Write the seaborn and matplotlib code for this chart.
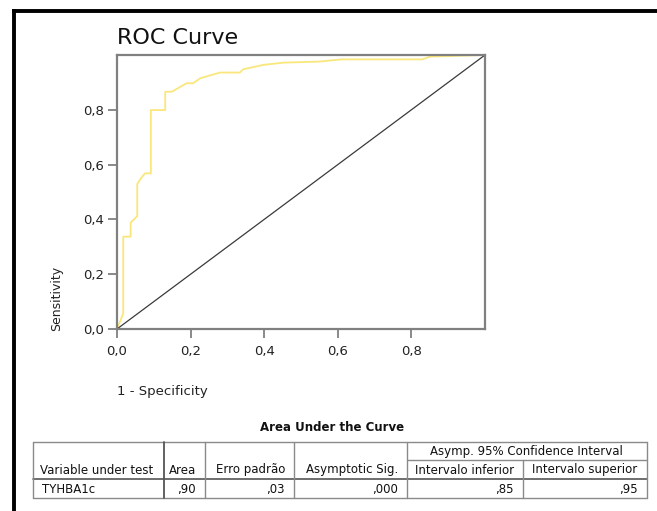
import numpy as np
import pandas as pd
import matplotlib
matplotlib.use("Agg")
import matplotlib.pyplot as plt
import seaborn as sns
from matplotlib.lines import Line2D

# ---- data ----
fpr = [0.0, 0.017, 0.017, 0.037, 0.037, 0.055, 0.055, 0.065, 0.076, 0.092, 0.092,
       0.131, 0.131, 0.149, 0.189, 0.207, 0.226, 0.280, 0.334, 0.343, 0.398, 0.452,
       0.55, 0.61, 0.83, 0.85, 1.0]
tpr = [0.0, 0.057, 0.337, 0.337, 0.388, 0.412, 0.529, 0.55, 0.568, 0.568, 0.799,
       0.799, 0.866, 0.866, 0.897, 0.897, 0.915, 0.936, 0.936, 0.948, 0.964, 0.972,
       0.976, 0.984, 0.984, 0.994, 1.0]
ref_x = [0.0, 1.0]
ref_y = [0.0, 1.0]
tick_vals = [0.0, 0.2, 0.4, 0.6, 0.8]
tick_labels = ["0,0", "0,2", "0,4", "0,6", "0,8"]

table_title = "Area Under the Curve"
span_header = "Asymp. 95% Confidence Interval"
col_headers = ["Variable under test", "Area", "Erro padrão", "Asymptotic Sig.",
               "Intervalo inferior", "Intervalo superior"]
row_values = ["TYHBA1c", ",90", ",03", ",000", ",85", ",95"]

# ---- figure ----
sns.set_style("white")
plt.rcParams['font.family'] = ['DejaVu Sans']
W, H = 657, 511
fig = plt.figure(figsize=(W / 100, H / 100), dpi=100)

def fx(px):
    return px / W

def fy(py):
    return 1 - py / H

ax = fig.add_axes([fx(117), fy(329), fx(485) - fx(117), fy(55) - fy(329)])
df = pd.DataFrame({"fpr": fpr, "tpr": tpr})
sns.lineplot(data=df, x="fpr", y="tpr", ax=ax, sort=False, estimator=None,
             color="#FAE77C", lw=1.3)
ref = pd.DataFrame({"x": ref_x, "y": ref_y})
sns.lineplot(data=ref, x="x", y="y", ax=ax, sort=False, estimator=None,
             color="#3a3a3a", lw=0.9)
ax.set_xlim(0, 1)
ax.set_ylim(0, 1)
ax.set_xticks(tick_vals)
ax.set_xticklabels(tick_labels)
ax.set_yticks(tick_vals)
ax.set_yticklabels(tick_labels)
ax.set_xlabel("")
ax.set_ylabel("")
for s in ax.spines.values():
    s.set_color("#808080")
    s.set_linewidth(1.6)
ax.tick_params(axis="both", which="both", direction="out", length=6.5, width=1.3,
               color="#808080", labelsize=9.5, labelcolor="#222222",
               left=True, bottom=True, top=False, right=False)
ax.tick_params(axis="x", pad=5)
ax.tick_params(axis="y", pad=3)

fig.text(fx(117), fy(38), "ROC Curve", fontsize=16, ha="left", va="center", color="#111111")
fig.text(fx(57), fy(331), "Sensitivity", fontsize=9, rotation=90, ha="center", va="bottom",
         color="#222222")
fig.text(fx(117), fy(392), "1 - Specificity", fontsize=9.5, ha="left", va="center",
         color="#222222")

# outer frame (left & top)
fig.add_artist(Line2D([fx(13.5), fx(13.5)], [fy(9.5), fy(511)], color="black", lw=2.8,
                      solid_capstyle="butt", transform=fig.transFigure))
fig.add_artist(Line2D([fx(12), fx(657)], [fy(11), fy(11)], color="black", lw=2.8,
                      solid_capstyle="butt", transform=fig.transFigure))

# ---- table ----
fig.text(fx(332), fy(427), table_title, fontsize=8.5, fontweight="bold", ha="center",
         va="center", color="#111111")
cols = [32.5, 163.5, 205, 294, 407, 523, 646.5]
y_top, y_mid, y_hdr, y_bot = 442, 460, 479, 498
gc = "#8a8a8a"

def hline(x0, x1, y, lw=1.0, c=gc):
    fig.add_artist(Line2D([fx(x0), fx(x1)], [fy(y), fy(y)], color=c, lw=lw,
                          transform=fig.transFigure))

def vline(x, y0, y1, lw=1.0, c=gc):
    fig.add_artist(Line2D([fx(x), fx(x)], [fy(y0), fy(y1)], color=c, lw=lw,
                          transform=fig.transFigure))

hline(cols[0], cols[-1], y_top)
hline(cols[4], cols[-1], y_mid)
hline(cols[0], cols[-1], y_hdr, lw=1.2, c="#555555")
hline(cols[0], cols[-1], y_bot)
for i, x in enumerate(cols):
    if i == 5:
        vline(x, y_mid, y_bot)
    else:
        vline(x, y_top, y_bot, lw=1.3 if i == 1 else 1.0,
              c="#555555" if i == 1 else gc)

fs = 8.5
fig.text((fx(cols[4]) + fx(cols[6])) / 2, fy((y_top + y_mid) / 2 + 0.5), span_header,
         fontsize=fs, ha="center", va="center", color="#111111")
hy = fy((y_mid + y_hdr) / 2 + 0.5)
dy = fy((y_hdr + y_bot) / 2 + 0.5)
for i, txt in enumerate(col_headers):
    if i == 0:
        fig.text(fx(cols[0] + 8), hy, txt, fontsize=fs, ha="left", va="center", color="#111111")
    else:
        fig.text(fx(cols[i + 1] - 9), hy, txt, fontsize=fs, ha="right", va="center",
                 color="#111111")
for i, txt in enumerate(row_values):
    if i == 0:
        fig.text(fx(cols[0] + 9), dy, txt, fontsize=fs, ha="left", va="center", color="#111111")
    else:
        fig.text(fx(cols[i + 1] - 9), dy, txt, fontsize=fs, ha="right", va="center",
                 color="#111111")

fig.savefig("out.png", dpi=100)
